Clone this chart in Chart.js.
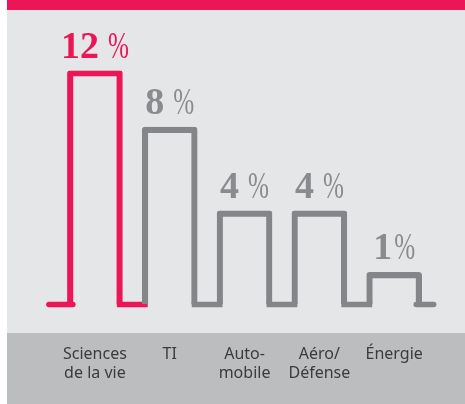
<!DOCTYPE html>
<html lang="fr">
<head>
<meta charset="utf-8">
<script src="https://cdn.jsdelivr.net/npm/chart.js@4.4.1/dist/chart.umd.min.js"></script>
<style>
  html, body { margin: 0; padding: 0; background: #fff; overflow: hidden; }
  canvas { display: block; }
</style>
</head>
<body>
<canvas id="secteurs" width="465" height="404"></canvas>
<script>
// Données du graphique
const secteurs = [['Sciences', 'de la vie'], 'TI', ['Auto-', 'mobile'], ['Aéro/', 'Défense'], 'Énergie'];
const valeurs = [12, 8, 4, 4, 1];
const etiquettes = ['12 %', '8 %', '4 %', '4 %', '1%'];
// hauteurs dessinées (l'illustration n'est pas à l'échelle)
const hauteurs = [12, 9.1, 4.8, 4.8, 1.65];

const ROSE = '#ec1556';
const GRIS = '#848588';
const EPAIS = 5.5;
const couleurs = valeurs.map((v, i) => i === 0 ? ROSE : GRIS);

// Fond : bande rose en haut, gris clair, bande grise en bas
const fondPlugin = {
  id: 'fond',
  beforeDraw(chart) {
    const ctx = chart.ctx;
    ctx.save();
    ctx.fillStyle = '#ffffff';
    ctx.fillRect(0, 0, chart.width, chart.height);
    ctx.fillStyle = ROSE;
    ctx.fillRect(7, 0, chart.width - 7, 10);
    ctx.fillStyle = '#e5e6e8';
    ctx.fillRect(7, 10, chart.width - 7, 323);
    ctx.fillStyle = '#bcbdbf';
    ctx.fillRect(7, 333, chart.width - 7, chart.height - 333);
    ctx.restore();
  }
};

// Ligne de base entre les barres
const baseLinePlugin = {
  id: 'baseLine',
  beforeDatasetsDraw(chart) {
    const ctx = chart.ctx;
    const bars = chart.getDatasetMeta(0).data;
    const y = chart.scales.y.getPixelForValue(0);
    ctx.save();
    ctx.lineWidth = EPAIS;
    const seg = (x1, x2, col, cap) => {
      ctx.beginPath();
      ctx.lineCap = cap;
      ctx.strokeStyle = col;
      ctx.moveTo(x1, y);
      ctx.lineTo(x2, y);
      ctx.stroke();
    };
    const gauche = b => b.x - b.width / 2;
    const droite = b => b.x + b.width / 2;
    seg(gauche(bars[0]) - 18.5, gauche(bars[0]) + EPAIS, couleurs[0], 'round');
    for (let i = 0; i < bars.length - 1; i++) {
      seg(droite(bars[i]) - EPAIS, gauche(bars[i + 1]) + EPAIS, couleurs[i], 'butt');
    }
    const last = bars[bars.length - 1];
    seg(droite(last) - EPAIS, droite(last) + 12, couleurs[bars.length - 1], 'round');
    ctx.restore();
  }
};

// Valeurs au-dessus des barres (chiffres gras, % fin et étroit)
const valeursPlugin = {
  id: 'valeurs',
  afterDatasetsDraw(chart) {
    const ctx = chart.ctx;
    const bars = chart.getDatasetMeta(0).data;
    const serrage = 0.68;
    ctx.save();
    ctx.textBaseline = 'alphabetic';
    ctx.textAlign = 'left';
    bars.forEach((bar, i) => {
      const txt = etiquettes[i];
      const num = txt.replace('%', '').trimEnd();
      const sep = txt.slice(num.length, txt.length - 1);
      const fNum = 'bold 38px "Liberation Serif", serif';
      const fPct = '37px "Liberation Serif", serif';
      ctx.font = fNum;
      const wNum = ctx.measureText(num).width;
      const wSep = sep ? 9 : 2;
      ctx.font = fPct;
      const wPct = ctx.measureText('%').width * serrage;
      let x = bar.x - (wNum + wSep + wPct) / 2;
      const y = bar.y - 13;
      ctx.fillStyle = i === 0 ? ROSE : '#8a8b8e';
      ctx.font = fNum;
      ctx.fillText(num, x, y);
      x += wNum + wSep;
      ctx.font = fPct;
      ctx.save();
      ctx.translate(x, y);
      ctx.scale(serrage, 1);
      ctx.fillText('%', 0, 0);
      ctx.restore();
    });
    ctx.restore();
  }
};

const ctx = document.getElementById('secteurs').getContext('2d');
window.secteursChart = new Chart(ctx, {
  type: 'bar',
  data: {
    labels: secteurs,
    datasets: [{
      data: hauteurs,
      backgroundColor: 'rgba(0,0,0,0)',
      borderColor: couleurs,
      borderWidth: EPAIS,
      borderSkipped: 'bottom',
      borderRadius: { topLeft: 3, topRight: 3, bottomLeft: 0, bottomRight: 0 },
      barThickness: 55
    }]
  },
  options: {
    responsive: false,
    animation: false,
    devicePixelRatio: 1,
    layout: { padding: { top: 70.5, left: 57.5, right: 22, bottom: 0 } },
    plugins: {
      legend: { display: false },
      tooltip: { enabled: false }
    },
    scales: {
      x: {
        grid: { display: false, drawTicks: false },
        border: { display: false },
        afterFit: (scale) => { scale.height = 99.5; },
        ticks: {
          padding: 40,
          color: '#3b3b3d',
          font: { family: '"Noto Sans", sans-serif', size: 16, lineHeight: '19px' },
          maxRotation: 0,
          autoSkip: false
        }
      },
      y: {
        display: false,
        min: 0,
        max: 12
      }
    }
  },
  plugins: [fondPlugin, baseLinePlugin, valeursPlugin]
});
</script>
</body>
</html>
